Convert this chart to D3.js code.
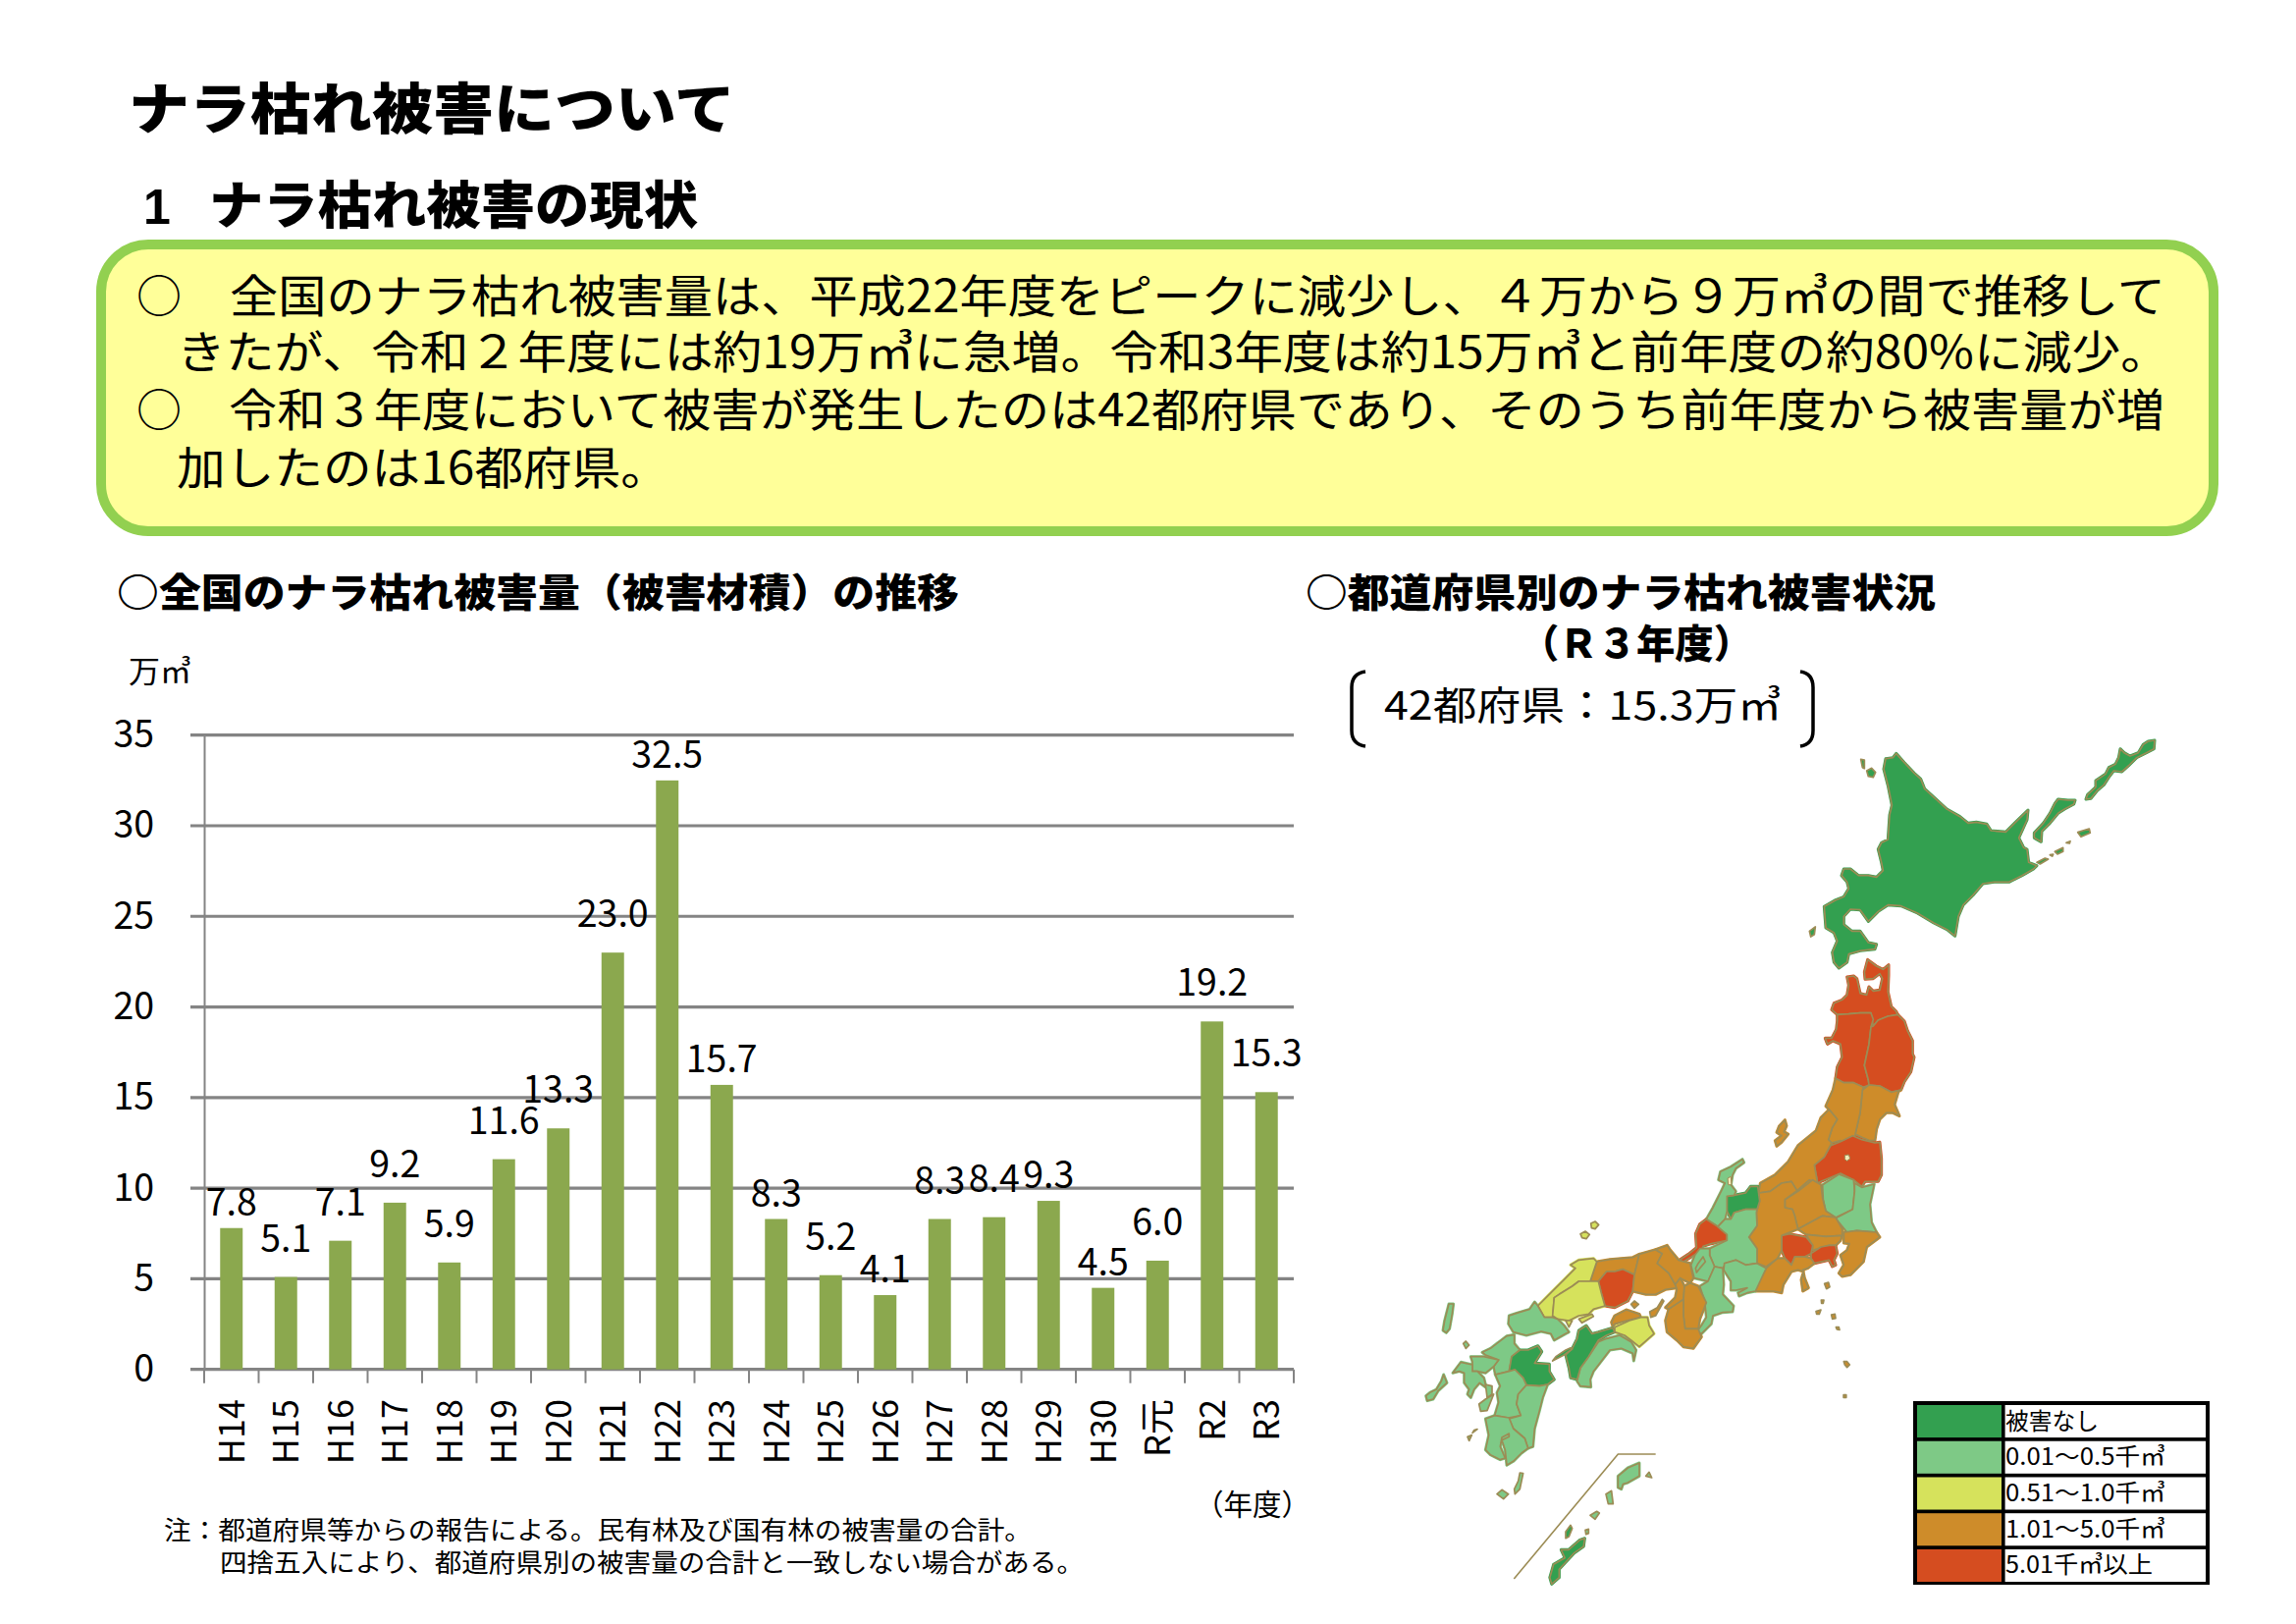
<!DOCTYPE html>
<html lang="ja">
<head>
<meta charset="utf-8">
<title>ナラ枯れ被害について</title>
<script src="https://cdn.jsdelivr.net/npm/d3@7"></script>
<style>
    html, body { margin: 0; padding: 0; background: #fff; }
    svg { display: block; }
    text { font-family: "Noto Sans CJK JP", "Noto Sans", sans-serif; fill: #000; }
</style>
</head>
<body>
<div id="page"></div>
<script>
// chart values
let years = ["H14","H15","H16","H17","H18","H19","H20","H21","H22","H23","H24","H25","H26","H27","H28","H29","H30","R元","R2","R3"];
let damage = [7.8,5.1,7.1,9.2,5.9,11.6,13.3,23.0,32.5,15.7,8.3,5.2,4.1,8.3,8.4,9.3,4.5,6.0,19.2,15.3];
let yTicks = [0,5,10,15,20,25,30,35];

// legend classes, index = level
let legendLabels = ["被害なし","0.01～0.5千㎥","0.51～1.0千㎥","1.01～5.0千㎥","5.01千㎥以上"];
let levelColors = ["#33A050","#7EC986","#D6E25C","#CE8C2A","#D54D20"];

// damage class of each prefecture in R3
let noDamage = ["北海道","富山","愛媛","大分","沖縄"];
let level1 = ["茨城","栃木","石川","岐阜","愛知","滋賀","三重","山口","高知","福岡","佐賀","長崎","熊本","宮崎","鹿児島"];
let level2 = ["島根","広島","徳島"];
let level3 = ["宮城","山形","新潟","群馬","埼玉","東京","千葉","長野","静岡","鳥取","兵庫","京都","大阪","奈良","和歌山","香川"];
let level4 = ["青森","秋田","岩手","福島","神奈川","山梨","福井","岡山"];

// map outlines. each ring: [pref, trace sheet, points]
let sheets = {
    A: {x: 1840, y: 750, sx: 3, sy: 3},
    B: {x: 1780, y: 970, sx: 3, sy: 3},
    C: {x: 1700, y: 1170, sx: 3, sy: 3},
    D: {x: 1530, y: 1250, sx: 3, sy: 3},
    E: {x: 1450, y: 1340, sx: 3, sy: 3},
    Z: {x: 1420, y: 1150, sx: 2.613, sy: 3}
};
let outlines = [
    ["北海道","A",[[275,52],[300,80],[330,112],[350,130],[362,160],[395,190],[430,222],[470,245],[495,265],[520,262],[552,268],[565,288],[610,292],[640,262],[678,225],[675,255],[650,310],[665,340],[675,345],[680,385],[705,395],[695,405],[660,425],[630,440],[620,445],[575,445],[540,450],[510,485],[480,515],[465,550],[455,610],[430,590],[390,570],[340,540],[290,518],[250,515],[220,535],[190,565],[165,530],[135,528],[115,550],[115,575],[140,595],[165,595],[190,630],[215,635],[210,650],[165,655],[130,665],[125,690],[100,708],[85,690],[80,660],[95,625],[85,600],[60,585],[55,520],[90,500],[115,490],[130,465],[125,445],[108,425],[115,405],[135,405],[160,425],[190,425],[215,430],[235,410],[230,385],[220,345],[230,325],[250,315],[255,240],[262,210],[250,150],[237,100],[243,68],[265,65]]],
    ["北海道","A",[[185,105],[200,97],[212,110],[205,125],[190,122]]],
    ["北海道","A",[[167,70],[178,72],[178,98],[172,95]]],
    ["北海道","A",[[10,595],[28,582],[25,605],[14,612]]],
    ["北海道","A",[[770,192],[800,195],[822,195],[818,207],[790,222],[770,235],[745,265],[720,290],[718,322],[697,310],[697,295],[725,265],[745,235],[760,205]]],
    ["北海道","A",[[1045,15],[1065,12],[1063,38],[1040,50],[1010,65],[985,90],[965,108],[940,105],[925,125],[910,148],[890,165],[870,190],[855,192],[860,178],[885,155],[885,135],[915,115],[925,95],[945,85],[955,65],[960,38],[972,50],[990,60],[1015,50],[1030,25]]],
    ["北海道","A",[[830,293],[865,282],[868,295],[840,307]]],
    ["北海道","A",[[705,385],[730,372],[740,375],[715,390]]],
    ["北海道","A",[[745,362],[755,360],[752,366]]],
    ["北海道","A",[[760,352],[785,340],[785,352],[768,360]]],
    ["北海道","A",[[795,325],[807,320],[805,327]]],

    ["青森","B",[[368,22],[395,42],[415,52],[432,38],[432,70],[430,120],[440,165],[455,180],[460,190],[430,195],[400,207],[385,225],[380,200],[378,185],[345,185],[310,188],[275,190],[258,175],[265,155],[290,145],[305,130],[310,100],[305,75],[325,72],[335,80],[345,125],[365,130],[372,105],[385,118],[405,115],[413,80],[405,65],[385,80],[360,82],[358,60]]],
    ["秋田","B",[[275,190],[310,188],[345,185],[378,185],[385,205],[378,228],[372,280],[358,345],[370,390],[372,405],[355,412],[325,398],[295,398],[270,385],[275,350],[290,320],[285,280],[262,270],[245,280],[238,262],[258,262],[272,235],[275,210]]],
    ["岩手","B",[[385,225],[400,207],[430,195],[460,190],[480,210],[490,240],[505,270],[505,310],[510,320],[500,365],[480,395],[470,420],[440,427],[405,408],[372,405],[370,390],[358,345],[372,280],[378,228]]],
    ["宮城","B",[[372,405],[405,408],[440,427],[470,420],[462,425],[450,465],[465,500],[445,490],[425,490],[405,510],[395,540],[390,575],[375,575],[350,565],[330,555],[345,490],[352,420]]],
    ["山形","B",[[270,385],[295,398],[325,398],[355,412],[352,420],[345,490],[330,555],[322,590],[285,575],[258,582],[248,572],[260,535],[275,510],[250,480],[240,470],[262,420]]],
    ["福島","B",[[322,560],[350,572],[390,582],[405,580],[410,630],[410,680],[400,700],[360,700],[350,715],[325,695],[285,675],[225,700],[215,705],[205,650],[235,625],[255,590],[285,578]]],
    ["新潟","C",[[490,-120],[465,-95],[450,-55],[395,-10],[365,40],[325,80],[280,105],[275,135],[310,130],[345,105],[375,100],[392,128],[430,95],[455,105],[445,50],[475,25],[498,-18],[488,-28],[500,-65],[515,-90]]],
    ["新潟","B",[[115,512],[120,530],[112,548],[125,555],[105,580],[90,592],[85,575],[105,560],[90,550],[98,530]]],

    ["栃木","C",[[470,110],[520,78],[565,95],[568,130],[562,185],[510,210],[480,190],[472,155]]],
    ["茨城","C",[[568,105],[590,118],[628,108],[615,170],[620,225],[635,255],[575,250],[545,255],[510,212],[562,185],[568,130]]],
    ["群馬","C",[[355,155],[395,130],[440,95],[465,110],[470,150],[480,190],[510,210],[470,205],[395,245],[385,205],[378,185],[355,180]]],
    ["埼玉","C",[[395,245],[470,205],[510,210],[530,245],[530,265],[480,268],[420,262]]],
    ["東京","C",[[420,262],[480,268],[530,265],[525,280],[510,295],[490,295],[440,310],[440,295]]],
    ["千葉","C",[[535,255],[575,250],[635,255],[645,270],[605,300],[595,345],[555,385],[530,390],[520,380],[535,355],[525,325],[545,310],[552,290],[535,288]]],
    ["神奈川","C",[[435,320],[465,300],[490,295],[510,295],[515,320],[505,340],[510,355],[500,360],[490,340],[445,350],[435,335]]],
    ["山梨","C",[[345,265],[370,260],[420,270],[440,295],[435,320],[415,330],[385,330],[375,355],[355,335],[345,310]]],
    ["静岡","C",[[332,335],[355,335],[375,355],[385,330],[415,330],[435,335],[445,350],[425,365],[410,370],[415,395],[427,425],[410,435],[405,400],[412,375],[395,370],[375,375],[350,415],[345,440],[320,435],[265,435],[275,405],[298,365]]],
    ["長野","C",[[275,135],[310,130],[345,105],[375,100],[392,128],[355,155],[355,180],[378,185],[385,205],[395,245],[345,265],[345,310],[332,335],[298,360],[270,350],[270,305],[245,270],[270,235],[268,195],[278,160]]],
    ["富山","C",[[178,145],[200,142],[235,135],[250,115],[272,115],[278,160],[270,185],[235,185],[200,195],[190,215],[178,190]]],
    ["石川","C",[[158,70],[190,55],[225,32],[230,42],[205,60],[195,80],[190,110],[205,130],[200,142],[178,145],[178,190],[172,215],[150,238],[115,215],[135,180],[160,130],[172,105],[152,95]]],
    ["福井","C",[[115,215],[150,238],[178,262],[178,280],[130,290],[105,298],[100,310],[70,330],[40,348],[35,338],[60,322],[85,302],[82,260],[95,230]]],
    ["岐阜","C",[[150,238],[172,215],[190,215],[200,195],[235,185],[270,185],[268,195],[270,235],[245,270],[270,305],[270,350],[235,355],[205,340],[175,350],[165,365],[140,360],[125,325],[125,305],[178,280],[178,262]]],
    ["愛知","C",[[170,350],[205,340],[235,355],[270,350],[298,365],[265,435],[240,440],[215,450],[212,440],[240,425],[205,432],[190,432],[190,405],[168,370]]],
    ["滋賀","C",[[95,305],[125,305],[125,325],[140,360],[120,405],[78,395],[68,355],[80,325]]],
    ["滋賀","C",[[90,350],[105,330],[112,345],[95,365],[85,378],[82,365]]],
    ["三重","C",[[140,360],[165,365],[168,415],[165,445],[198,480],[195,498],[165,500],[135,510],[130,535],[100,565],[85,560],[100,540],[115,515],[110,465],[95,420],[120,405]]],
    ["東京","C",[[476,412],[488,408],[492,422],[482,428]]],
    ["東京","C",[[466,462],[474,462],[472,472],[467,472]]],
    ["東京","C",[[450,497],[465,492],[460,505],[452,505]]],
    ["東京","C",[[497,507],[508,505],[510,518],[500,520]]],
    ["東京","C",[[511,545],[520,545],[522,553],[514,552]]],
    ["東京","C",[[535,650],[545,650],[553,660],[545,668],[538,660]]],
    ["東京","Z",[[1197,812],[1204,812],[1204,820],[1197,820]]],

    ["鳥取","D",[[290,105],[330,98],[400,92],[420,82],[405,145],[370,128],[345,135],[320,135],[295,165],[270,165]]],
    ["岡山","D",[[295,165],[320,135],[345,135],[370,128],[405,145],[400,195],[385,225],[345,245],[315,240],[305,205]]],
    ["兵庫","D",[[420,82],[470,68],[490,80],[475,110],[510,140],[530,175],[535,185],[500,190],[470,205],[440,205],[400,195],[405,145]]],
    ["京都","D",[[470,68],[505,55],[515,70],[540,100],[575,110],[585,155],[575,170],[545,155],[530,175],[510,140],[475,110],[490,80]]],
    ["大阪","D",[[530,175],[545,155],[558,180],[555,220],[510,250],[500,245],[530,215],[535,190]]],
    ["奈良","D",[[558,180],[575,170],[600,180],[625,230],[605,280],[600,310],[560,310],[555,270],[555,220]]],
    ["和歌山","D",[[510,250],[555,220],[555,270],[560,310],[600,310],[610,335],[585,370],[555,365],[535,345],[505,320],[500,285]]],
    ["兵庫","D",[[490,220],[495,225],[470,270],[455,275],[452,258],[475,245]]],
    ["香川","D",[[395,235],[405,225],[418,235],[405,247]]],
    ["香川","D",[[335,290],[345,270],[380,252],[420,265],[425,275],[390,283],[345,295],[340,305]]],
    ["徳島","D",[[345,305],[390,285],[425,275],[445,275],[450,300],[465,325],[420,365],[395,345],[375,330],[345,320]]],
    ["高知","D",[[410,375],[395,350],[360,330],[320,340],[295,350],[265,395],[240,430],[230,470],[240,485],[272,488],[270,465],[280,440],[330,375],[365,370],[400,385],[403,408]]],
    ["愛媛","D",[[340,310],[345,320],[320,330],[295,345],[265,395],[240,430],[230,465],[210,460],[205,430],[195,390],[215,370],[230,340],[235,315],[258,300],[275,325],[295,320],[335,308]]],
    ["愛媛","D",[[215,372],[190,390],[155,408],[165,395],[195,375],[210,368]]],
    ["島根","D",[[110,240],[150,200],[190,160],[225,125],[210,115],[235,100],[280,95],[290,105],[270,165],[235,165],[215,180],[175,205],[160,215],[155,275],[130,275]]],
    ["島根","D",[[272,-12],[285,-18],[296,-8],[285,5],[274,2]]],
    ["島根","D",[[240,20],[255,12],[268,22],[258,35],[245,32]]],
    ["広島","D",[[160,215],[175,205],[215,180],[235,165],[295,165],[305,205],[315,240],[280,250],[265,265],[235,270],[205,285],[170,280],[155,270]]],
    ["広島","D",[[195,285],[215,285],[205,305]]],
    ["広島","D",[[235,280],[275,265],[280,272],[245,292]]],
    ["山口","D",[[110,240],[130,275],[155,275],[170,280],[190,300],[205,320],[195,325],[160,345],[150,325],[120,318],[75,330],[35,320],[20,295],[22,270],[45,262],[85,250],[100,228]]],

    ["福岡","E",[[180,112],[205,100],[255,62],[278,58],[278,85],[295,105],[270,125],[262,170],[220,180],[215,155],[230,135],[190,120]]],
    ["佐賀","E",[[145,125],[160,125],[185,125],[230,135],[215,155],[190,175],[165,170],[150,170],[150,140]]],
    ["長崎","E",[[90,175],[115,142],[150,150],[150,170],[165,170],[185,190],[190,210],[195,222],[172,205],[155,225],[145,250],[135,240],[140,225],[125,205],[125,175],[110,170]]],
    ["長崎","E",[[190,210],[210,215],[210,240],[195,250]]],
    ["長崎","E",[[8,245],[20,235],[40,225],[55,200],[62,180],[72,205],[45,230],[30,255],[12,260]]],
    ["長崎","E",[[122,85],[130,78],[140,90],[130,100]]],
    ["長崎","E",[[78,-36],[92,-36],[88,-5],[80,40],[70,52],[60,45],[65,15]]],
    ["大分","E",[[262,170],[270,125],[295,105],[320,105],[350,92],[362,110],[340,145],[385,148],[385,170],[400,195],[380,210],[355,215],[315,212],[305,190],[280,165]]],
    ["熊本","E",[[220,180],[262,170],[280,165],[305,190],[315,212],[290,240],[285,270],[298,305],[260,312],[218,305],[230,265],[225,235],[235,215]]],
    ["熊本","E",[[170,270],[190,255],[215,240],[205,265],[195,290],[175,292]]],
    ["宮崎","E",[[315,212],[355,215],[380,210],[365,250],[355,290],[340,345],[335,400],[320,405],[310,375],[275,345],[262,315],[298,305],[285,270],[290,240]]],
    ["鹿児島","E",[[190,315],[218,305],[262,312],[275,345],[310,375],[320,405],[300,420],[275,445],[255,457],[250,410],[240,380],[262,370],[262,360],[240,372],[235,400],[250,435],[235,440],[205,425],[190,410],[200,365]]],
    ["鹿児島","E",[[155,350],[165,347],[150,358]]],
    ["鹿児島","E",[[135,370],[148,365],[140,382]]],
    ["鹿児島","E",[[225,545],[240,532],[260,545],[245,560]]],
    ["鹿児島","E",[[295,480],[305,482],[295,530],[280,545],[278,530],[290,505]]],
    ["鹿児島","E",[[595,490],[625,465],[660,450],[660,490],[625,510],[610,515],[605,530],[595,525]]],
    ["鹿児島","E",[[680,490],[690,478],[698,495]]],
    ["鹿児島","E",[[558,545],[575,535],[580,575],[565,575]]],
    ["鹿児島","E",[[510,610],[530,598],[538,603],[525,622]]],
    ["鹿児島","E",[[495,655],[505,652],[505,665],[497,668]]],
    ["沖縄","E",[[435,660],[450,640],[455,650],[445,675],[435,680]]],
    ["沖縄","Z",[[495,1255],[508,1250],[505,1275],[480,1295],[460,1320],[440,1345],[440,1370],[420,1390],[415,1370],[425,1330],[455,1310],[445,1285],[465,1285]]]
];
let lakes = [
    ["B",[[298,620],[310,618],[314,630],[305,637],[298,632]]],
    ["C",[[180,90],[190,85],[192,110],[182,110]]]
];
let nanseiFrame = ["E",[[277,804],[595,423],[710,423]]];

const sheetX = k => d3.scaleLinear().domain([0, sheets[k].sx]).range([sheets[k].x, sheets[k].x + 1]);
const sheetY = k => d3.scaleLinear().domain([0, sheets[k].sy]).range([sheets[k].y, sheets[k].y + 1]);

let levelOf = new Map();
[noDamage, level1, level2, level3, level4].forEach((list, lv) => list.forEach(p => levelOf.set(p, lv)));

let svg = d3.select("#page").append("svg")
    .attr("width", 2339)
    .attr("height", 1654)
    .attr("viewBox", "0 0 2339 1654");

// text squeezed to the width seen in the picture, the source font is much narrower
function put(x, y, str, size, width, weight) {
    let t = svg.append("text")
        .attr("x", x)
        .attr("y", y)
        .attr("font-size", size)
        .attr("font-weight", weight || 400)
        .text(str);
    if (width) {
        t.attr("textLength", width).attr("lengthAdjust", "spacingAndGlyphs");
    }
    return t;
}

// headings
put(131, 131, "ナラ枯れ被害について", 56, 618, 900);
put(146, 228, "1", 50, null, 700).style("font-family", "'Liberation Sans'");
put(213, 228, "ナラ枯れ被害の現状", 52, 498, 900);

// summary box
svg.append("rect")
    .attr("x", 103).attr("y", 249)
    .attr("width", 2152).attr("height", 292)
    .attr("rx", 48).attr("ry", 48)
    .attr("fill", "#FFFF99")
    .attr("stroke", "#92D050")
    .attr("stroke-width", 10);

put(139, 318, "○", 46, 46);
put(234, 318, "全国のナラ枯れ被害量は、平成22年度をピークに減少し、４万から９万㎥の間で推移して", 46, 1972);
put(180, 375, "きたが、令和２年度には約19万㎥に急増。令和3年度は約15万㎥と前年度の約80%に減少。", 46, 2030);
put(139, 434, "○", 46, 46);
put(233, 434, "令和３年度において被害が発生したのは42都府県であり、そのうち前年度から被害量が増", 46, 1972);
put(180, 493, "加したのは16都府県。", 46, 502);

put(119, 618, "○全国のナラ枯れ被害量（被害材積）の推移", 40, 858, 900);
put(1330, 618, "○都道府県別のナラ枯れ被害状況", 40, 642, 900);
put(1549, 670, "（Ｒ３年度）", 40, 236, 900);

// the bracket round the total
let bracket = side => {
    let p = d3.path();
    if (side < 0) {
        p.moveTo(1391, 684); p.quadraticCurveTo(1377, 686, 1377, 700);
        p.lineTo(1377, 744); p.quadraticCurveTo(1377, 758, 1391, 760);
    } else {
        p.moveTo(1834, 684); p.quadraticCurveTo(1847, 686, 1847, 700);
        p.lineTo(1847, 744); p.quadraticCurveTo(1847, 758, 1834, 760);
    }
    return p.toString();
};
[-1, 1].forEach(s => svg.append("path").attr("d", bracket(s)).attr("fill", "none").attr("stroke", "#000").attr("stroke-width", 3.5));
put(1410, 733, "42都府県：15.3万㎥", 40, 405);

// bar chart
let x = d3.scaleBand().domain(years).range([208, 1318]).paddingInner(0.586).paddingOuter(0.293);
let y = d3.scaleLinear().domain([0, 35]).range([1394.7, 748.7]);
let grey = "#848484";

put(131, 695, "万㎥", 31, 64);

let grid = svg.append("g");
grid.selectAll("line").data(yTicks).enter().append("line")
    .attr("x1", 194).attr("x2", 1318)
    .attr("y1", d => y(d)).attr("y2", d => y(d))
    .attr("stroke", grey).attr("stroke-width", 3.2);

let yAxis = svg.append("g")
    .attr("transform", "translate(208,0)")
    .call(d3.axisLeft(y).tickValues(yTicks).tickSize(0).tickPadding(51));
yAxis.select(".domain").attr("stroke", grey).attr("stroke-width", 2);
yAxis.selectAll("text").attr("font-size", 37.5).attr("font-family", null).attr("fill", "#000");

svg.selectAll("rect.bar").data(years).enter().append("rect")
    .attr("class", "bar")
    .attr("x", d => x(d))
    .attr("y", (d, i) => y(damage[i]))
    .attr("width", x.bandwidth())
    .attr("height", (d, i) => y(0) - y(damage[i]))
    .attr("fill", "#8BA84E");

// labels that sit higher above their bar in the source
let raisedLabels = new Set(["H15","H16","H17","H18","H19","H20","H21","H25","H27","H28","R元","R2","R3"]);
svg.selectAll("text.val").data(years).enter().append("text")
    .attr("class", "val")
    .attr("x", d => x(d) + x.bandwidth() / 2)
    .attr("y", (d, i) => y(damage[i]) - (raisedLabels.has(d) ? 26 : 13))
    .attr("text-anchor", "middle")
    .attr("font-size", 37.5)
    .text((d, i) => damage[i].toFixed(1));

// x axis, ticks fall between the categories
let xAxis = svg.append("g")
    .attr("transform", "translate(0,1394)")
    .call(d3.axisBottom(x).tickSize(0));
xAxis.select(".domain").remove();
xAxis.selectAll("text")
    .attr("font-size", 36)
    .attr("font-family", null)
    .attr("fill", "#000")
    .attr("text-anchor", "end")
    .attr("transform", "translate(0,31) rotate(-90)")
    .attr("x", 0).attr("y", 0).attr("dy", "0.36em");
svg.selectAll("line.xtick").data(d3.range(years.length + 1)).enter().append("line")
    .attr("class", "xtick")
    .attr("x1", i => x.range()[0] + i * x.step())
    .attr("x2", i => x.range()[0] + i * x.step())
    .attr("y1", y(0)).attr("y2", y(0) + 14)
    .attr("stroke", grey).attr("stroke-width", 2);

put(1217, 1543, "（年度）", 30, 118);
put(167, 1568, "注：都道府県等からの報告による。民有林及び国有林の被害量の合計。", 26, 884);
put(224, 1601, "四捨五入により、都道府県別の被害量の合計と一致しない場合がある。", 26, 880);

// map
let ringPath = (k, pts, closed) => d3.line()
    .x(d => sheetX(k)(d[0]))
    .y(d => sheetY(k)(d[1]))
    .curve(closed ? d3.curveLinearClosed : d3.curveLinear)(pts);

// hand traced borders do not quite meet, so the big pieces get a halo of their own colour first
svg.append("g").selectAll("path").data(outlines.filter(d => d[2].length > 6)).enter().append("path")
    .attr("d", d => ringPath(d[1], d[2], true))
    .attr("fill", "none")
    .attr("stroke", d => levelColors[levelOf.get(d[0])])
    .attr("stroke-width", 3)
    .attr("stroke-linejoin", "round");
svg.append("g").selectAll("path").data(outlines).enter().append("path")
    .attr("d", d => ringPath(d[1], d[2], true))
    .attr("fill", d => levelColors[levelOf.get(d[0])])
    .attr("stroke", "#9C8C55")
    .attr("stroke-width", 1.7)
    .attr("stroke-linejoin", "round");
svg.append("g").selectAll("path").data(lakes).enter().append("path")
    .attr("d", d => ringPath(d[0], d[1], true))
    .attr("fill", "#F2EBB8")
    .attr("stroke", "#9C8C55")
    .attr("stroke-width", 1);
svg.append("path")
    .attr("d", ringPath(nanseiFrame[0], nanseiFrame[1], false))
    .attr("fill", "none")
    .attr("stroke", "#9C8C55")
    .attr("stroke-width", 1.6);

// legend table
let legendY = d3.scaleBand().domain(d3.range(legendLabels.length)).range([1431, 1611]).paddingInner(0.1);
svg.append("rect").attr("x", 1949).attr("y", 1427).attr("width", 302).attr("height", 187).attr("fill", "#000");
let rows = svg.append("g").selectAll("g").data(legendLabels).enter().append("g");
rows.append("rect")
    .attr("x", 1953).attr("y", (d, i) => legendY(i))
    .attr("width", 86).attr("height", legendY.bandwidth())
    .attr("fill", (d, i) => levelColors[i]);
rows.append("rect")
    .attr("x", 2042.6).attr("y", (d, i) => legendY(i))
    .attr("width", 204.4).attr("height", legendY.bandwidth())
    .attr("fill", "#fff");
let legendWidths = [95, 163, 163, 163, 150];
rows.append("text")
    .attr("x", 2043)
    .attr("y", (d, i) => legendY(i) + 24.5)
    .attr("font-size", 24)
    .attr("textLength", (d, i) => legendWidths[i])
    .attr("lengthAdjust", "spacingAndGlyphs")
    .text(d => d);
</script>
</body>
</html>
